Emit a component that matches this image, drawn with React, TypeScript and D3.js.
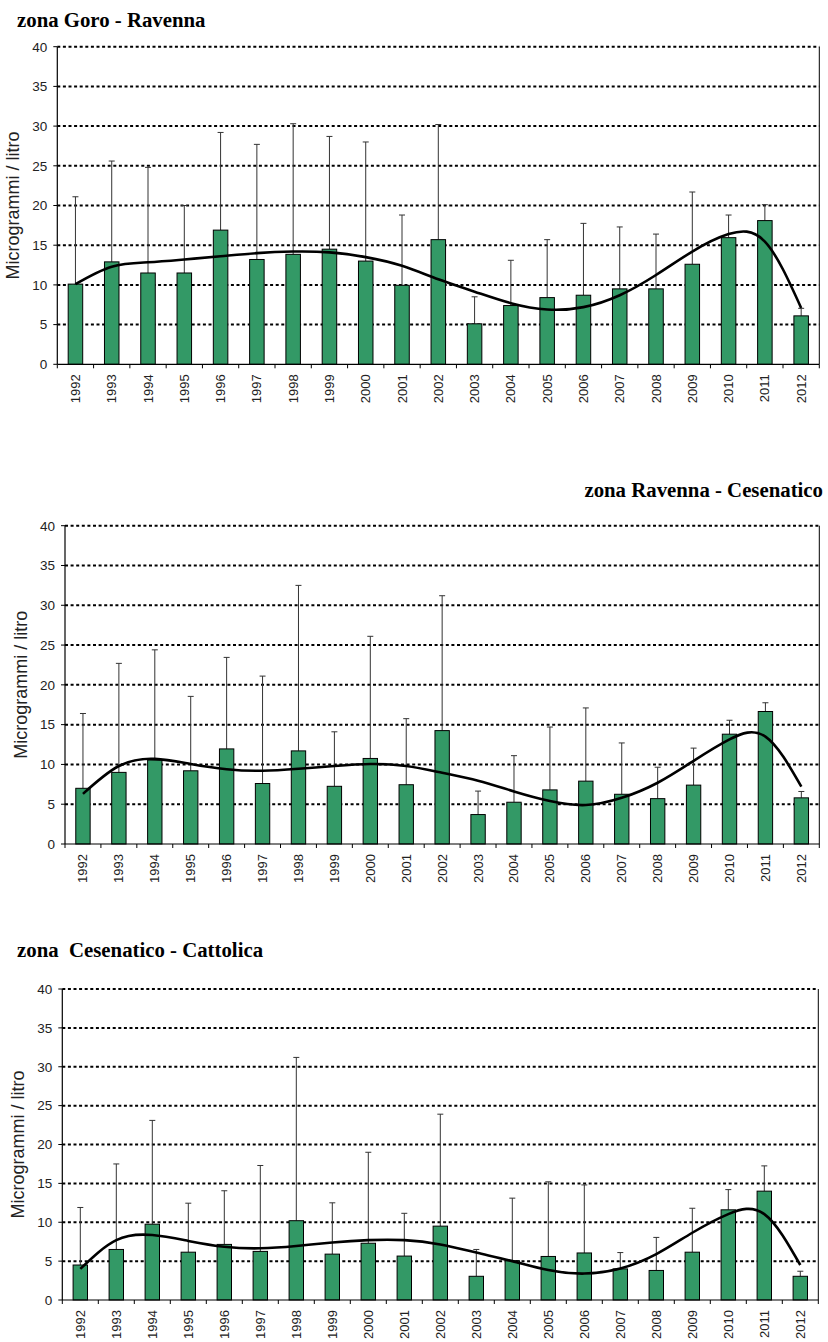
import React from "react";
import * as d3 from "d3";

const years = ["1992","1993","1994","1995","1996","1997","1998","1999","2000","2001","2002","2003","2004","2005","2006","2007","2008","2009","2010","2011","2012"];
const yTicks = [0, 5, 10, 15, 20, 25, 30, 35, 40];

// zona Goro - Ravenna
const goroMean = [10.1, 12.9, 11.5, 11.5, 16.9, 13.2, 13.85, 14.5, 13.0, 9.95, 15.7, 5.1, 7.4, 8.4, 8.7, 9.5, 9.5, 12.6, 15.95, 18.1, 6.1];
const goroUpper = [21.1, 25.6, 24.8, 20.0, 29.2, 27.7, 30.3, 28.7, 28.0, 18.8, 30.2, 8.5, 13.1, 15.7, 17.75, 17.3, 16.4, 21.7, 18.8, 20.1, 7.05];
const goroTrend = [10.1, 12.3, 12.85, 13.2, 13.6, 14.0, 14.2, 14.1, 13.5, 12.4, 10.7, 9.15, 7.7, 6.9, 7.2, 8.7, 11.25, 14.2, 16.4, 15.45, 7.1];

// zona Ravenna - Cesenatico
const ravMean = [7.0, 9.0, 10.55, 9.2, 11.95, 7.6, 11.7, 7.25, 10.75, 7.45, 14.25, 3.7, 5.25, 6.8, 7.9, 6.25, 5.7, 7.4, 13.8, 16.65, 5.8];
const ravUpper = [16.4, 22.7, 24.4, 18.55, 23.45, 21.1, 32.5, 14.1, 26.1, 15.75, 31.2, 6.65, 11.1, 14.7, 17.1, 12.7, 9.65, 12.05, 15.55, 17.75, 6.6];
const ravTrend = [6.3, 9.8, 10.7, 10.05, 9.4, 9.2, 9.45, 9.8, 10.05, 9.8, 8.95, 7.95, 6.6, 5.4, 4.9, 5.8, 7.7, 10.45, 13.15, 13.5, 7.2];

// zona Cesenatico - Cattolica
const cesMean = [4.5, 6.5, 9.75, 6.15, 7.15, 6.25, 10.2, 5.9, 7.3, 5.65, 9.5, 3.05, 5.05, 5.6, 6.05, 4.0, 3.8, 6.15, 11.6, 14.0, 3.05];
const cesUpper = [11.9, 17.5, 23.1, 12.45, 14.05, 17.3, 31.2, 12.5, 19.0, 11.15, 23.9, 6.5, 13.1, 15.2, 14.8, 6.1, 8.05, 11.8, 14.2, 17.25, 3.7];
const cesTrend = [4.0, 7.7, 8.35, 7.6, 6.85, 6.65, 6.95, 7.4, 7.7, 7.7, 7.15, 6.1, 5.0, 3.85, 3.4, 4.05, 5.9, 8.65, 11.05, 11.05, 4.5];

const BAR_FILL = "#339966";
const SANS = "Arial, 'Liberation Sans', sans-serif";
const SERIF = "'Times New Roman', 'Liberation Serif', serif";

type PanelProps = {
  title: string;
  titleX: number;
  titleY: number;
  titleAnchor: "start" | "end";
  left: number;
  right: number;
  top: number;
  bottom: number;
  means: number[];
  uppers: number[];
  trend: number[];
};

function Panel(p: PanelProps) {
  const x = d3.scaleBand<string>().domain(years).range([p.left, p.right]).paddingInner(0).paddingOuter(0);
  const y = d3.scaleLinear().domain([0, 40]).range([p.bottom, p.top]);
  const bw = x.bandwidth();
  const barW = bw * 0.4;
  const cx = (yr: string) => (x(yr) as number) + bw / 2;
  const line = d3
    .line<number>()
    .x((_, i) => cx(years[i]))
    .y((v) => y(v))
    .curve(d3.curveNatural);
  const boundaries = years.map((yr) => x(yr) as number).concat([p.right]);
  return (
    <g>
      <text
        x={p.titleX}
        y={p.titleY}
        textAnchor={p.titleAnchor}
        fontFamily={SERIF}
        fontWeight="bold"
        fontSize={20.8}
        style={{ whiteSpace: "pre" }}
      >
        {p.title}
      </text>
      {/* gridlines */}
      {yTicks.filter((t) => t > 0).map((t) => (
        <line
          key={"g" + t}
          x1={p.left}
          x2={p.right}
          y1={y(t)}
          y2={y(t)}
          stroke="#000"
          strokeWidth={2}
          strokeDasharray="3,2.6"
        />
      ))}
      {/* right border */}
      <line x1={p.right} x2={p.right} y1={p.top} y2={p.bottom} stroke="#000" strokeWidth={1} />
      {/* error bars */}
      {years.map((yr, i) => (
        <g key={"e" + yr} stroke="#333" strokeWidth={1}>
          <line x1={cx(yr)} x2={cx(yr)} y1={y(p.means[i])} y2={y(p.uppers[i])} />
          <line x1={cx(yr) - 3} x2={cx(yr) + 3} y1={y(p.uppers[i])} y2={y(p.uppers[i])} />
        </g>
      ))}
      {/* bars */}
      {years.map((yr, i) => (
        <rect
          key={"b" + yr}
          x={cx(yr) - barW / 2}
          y={y(p.means[i])}
          width={barW}
          height={y(0) - y(p.means[i])}
          fill={BAR_FILL}
          stroke="#000"
          strokeWidth={1}
        />
      ))}
      {/* trend */}
      <path d={line(p.trend) || ""} fill="none" stroke="#000" strokeWidth={2.6} />
      {/* y axis */}
      <line x1={p.left} x2={p.left} y1={p.top} y2={p.bottom} stroke="#000" strokeWidth={1.2} />
      {yTicks.map((t) => (
        <g key={"y" + t}>
          <line x1={p.left - 4} x2={p.left} y1={y(t)} y2={y(t)} stroke="#000" strokeWidth={1} />
          <text
            x={p.left - 10}
            y={y(t)}
            dy="0.36em"
            textAnchor="end"
            fontFamily={SANS}
            fontSize={13.5}
            fill="#222"
          >
            {t}
          </text>
        </g>
      ))}
      <text
        transform={`translate(${p.left - 38},${(p.top + p.bottom) / 2}) rotate(-90)`}
        textAnchor="middle"
        fontFamily={SANS}
        fontSize={18}
        fill="#222"
      >
        Microgrammi / litro
      </text>
      {/* x axis */}
      <line x1={p.left} x2={p.right} y1={p.bottom} y2={p.bottom} stroke="#000" strokeWidth={1.2} />
      {boundaries.map((bx, i) => (
        <line key={"t" + i} x1={bx} x2={bx} y1={p.bottom} y2={p.bottom + 4} stroke="#000" strokeWidth={1} />
      ))}
      {years.map((yr) => (
        <text
          key={"x" + yr}
          transform={`translate(${cx(yr) + 4.5},${p.bottom + 10}) rotate(-90)`}
          textAnchor="end"
          fontFamily={SANS}
          fontSize={13}
          fill="#222"
        >
          {yr}
        </text>
      ))}
    </g>
  );
}

export default function App() {
  return (
    <svg
      width={828}
      height={1342}
      viewBox="0 0 828 1342"
      style={{ position: "absolute", left: 0, top: 0, background: "#fff" }}
    >
      <rect x={0} y={0} width={828} height={1342} fill="#fff" />
      <Panel
        title="zona Goro - Ravenna"
        titleX={17}
        titleY={27}
        titleAnchor="start"
        left={57.3}
        right={819.3}
        top={46.7}
        bottom={364.3}
        means={goroMean}
        uppers={goroUpper}
        trend={goroTrend}
      />
      <Panel
        title="zona Ravenna - Cesenatico"
        titleX={823}
        titleY={497}
        titleAnchor="end"
        left={65}
        right={819.3}
        top={525.7}
        bottom={844}
        means={ravMean}
        uppers={ravUpper}
        trend={ravTrend}
      />
      <Panel
        title={"zona  Cesenatico - Cattolica"}
        titleX={17}
        titleY={957}
        titleAnchor="start"
        left={62.3}
        right={818.3}
        top={989}
        bottom={1300}
        means={cesMean}
        uppers={cesUpper}
        trend={cesTrend}
      />
    </svg>
  );
}
